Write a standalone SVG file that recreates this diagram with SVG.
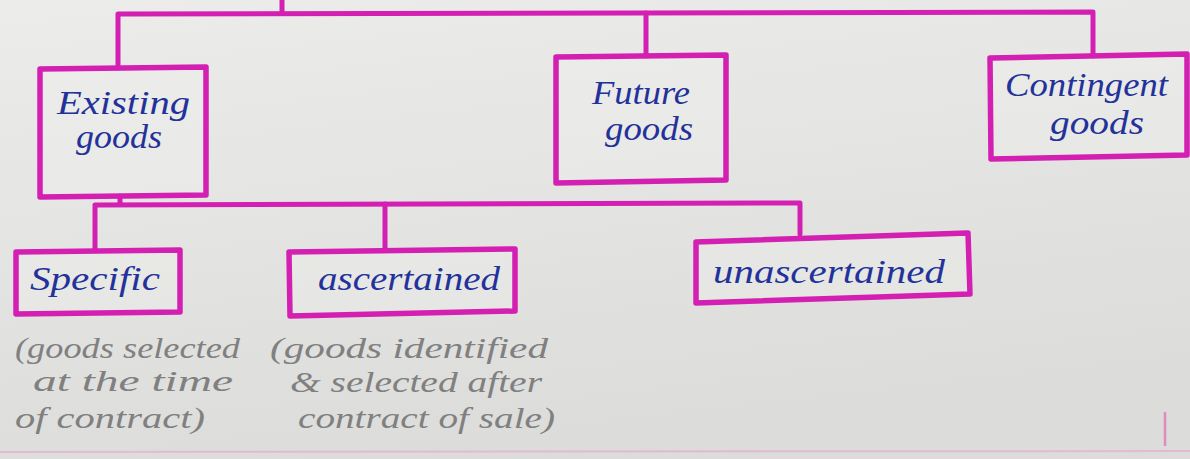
<svg xmlns="http://www.w3.org/2000/svg" width="1190" height="459" viewBox="0 0 1190 459">
  <defs>
    <linearGradient id="paper" x1="0" y1="0" x2="0.3" y2="1">
      <stop offset="0" stop-color="#ececeb"/>
      <stop offset="1" stop-color="#dcdcda"/>
    </linearGradient>
  </defs>
  <style>
    .box { fill: #f0f0ef; fill-opacity: 0.35; stroke: #d41fb3; stroke-width: 5.5; stroke-linejoin: round; }
    .wire { fill: none; stroke: #d41fb3; stroke-width: 5; stroke-linecap: round; stroke-linejoin: round; }
    .lbl { font-family: "Liberation Serif", "DejaVu Serif", serif; font-style: italic; font-size: 34px; fill: #23329a; }
    .note { font-family: "Liberation Serif", "DejaVu Serif", serif; font-style: italic; font-size: 30px; fill: #808080; }
  </style>
  <rect x="0" y="0" width="1190" height="459" fill="url(#paper)"/>
  <line x1="0" y1="452" x2="1190" y2="451" stroke="#e6a6cc" stroke-width="2" opacity="0.6"/>
  <line x1="1165" y1="412" x2="1165" y2="446" stroke="#e27ab8" stroke-width="2.5" opacity="0.8"/>

  <g id="connectors">
    <path class="wire" d="M282 0 L282 13"/>
    <path class="wire" d="M118 68 L118 14 L1093 12 L1093 56"/>
    <path class="wire" d="M646 13 L646 56"/>
    <path class="wire" d="M120 196 L120 204"/>
    <path class="wire" d="M95 250 L95 205 L800 203 L800 234"/>
    <path class="wire" d="M385 204 L385 250"/>
  </g>

  <g id="existing">
    <path class="box" d="M40 69 L206 67 L206 195 L40 197 Z"/>
    <text class="lbl" x="57" y="114" textLength="133" lengthAdjust="spacingAndGlyphs">Existing</text>
    <text class="lbl" x="76" y="148" textLength="86" lengthAdjust="spacingAndGlyphs">goods</text>
  </g>
  <g id="future">
    <path class="box" d="M556 57 L726 55 L726 180 L556 183 Z"/>
    <text class="lbl" x="592" y="104" textLength="98" lengthAdjust="spacingAndGlyphs">Future</text>
    <text class="lbl" x="605" y="140" textLength="88" lengthAdjust="spacingAndGlyphs">goods</text>
  </g>
  <g id="contingent">
    <path class="box" d="M990 58 L1187 54 L1187 155 L991 159 Z"/>
    <text class="lbl" x="1005" y="96" textLength="163" lengthAdjust="spacingAndGlyphs">Contingent</text>
    <text class="lbl" x="1050" y="134" textLength="94" lengthAdjust="spacingAndGlyphs">goods</text>
  </g>
  <g id="specific">
    <path class="box" d="M16 252 L180 250 L180 312 L16 314 Z"/>
    <text class="lbl" x="30" y="290" textLength="130" lengthAdjust="spacingAndGlyphs">Specific</text>
  </g>
  <g id="ascertained">
    <path class="box" d="M289 252 L515 249 L515 311 L290 316 Z"/>
    <text class="lbl" x="318" y="290" textLength="182" lengthAdjust="spacingAndGlyphs">ascertained</text>
  </g>
  <g id="unascertained">
    <path class="box" d="M696 242 L968 233 L970 294 L696 303 Z"/>
    <text class="lbl" x="713" y="283" textLength="232" lengthAdjust="spacingAndGlyphs">unascertained</text>
  </g>

  <g id="notes">
    <text class="note" x="15" y="358" textLength="225" lengthAdjust="spacingAndGlyphs">(goods selected</text>
    <text class="note" x="33" y="391" textLength="200" lengthAdjust="spacingAndGlyphs">at the time</text>
    <text class="note" x="15" y="428" textLength="190" lengthAdjust="spacingAndGlyphs">of contract)</text>
    <text class="note" x="270" y="358" textLength="278" lengthAdjust="spacingAndGlyphs">(goods identified</text>
    <text class="note" x="290" y="392" textLength="252" lengthAdjust="spacingAndGlyphs">&amp; selected after</text>
    <text class="note" x="298" y="428" textLength="257" lengthAdjust="spacingAndGlyphs">contract of sale)</text>
  </g>
</svg>
